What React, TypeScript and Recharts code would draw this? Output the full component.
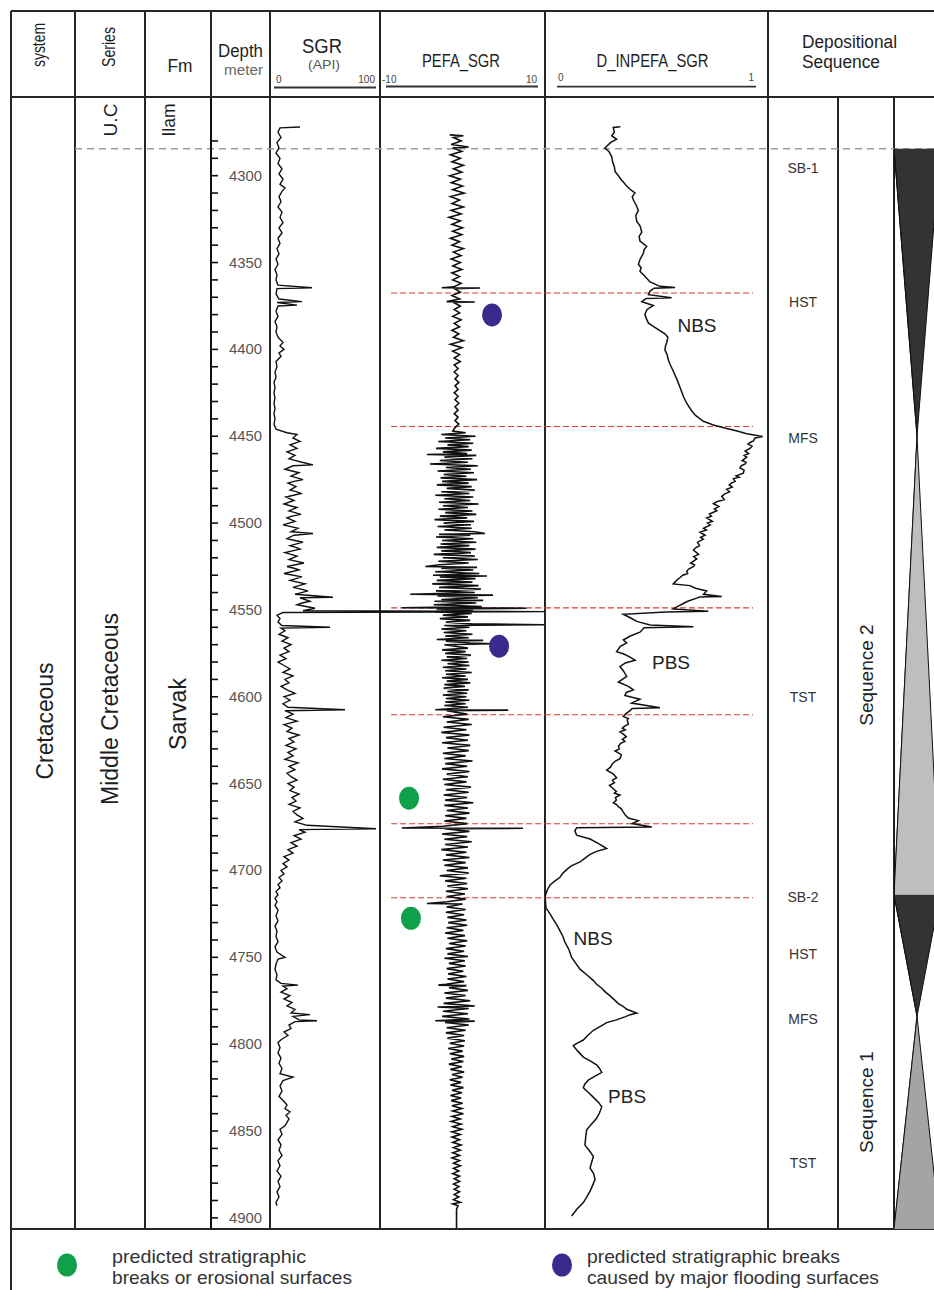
import React from "react";
import {
  Area,
  ComposedChart,
  Line,
  ReferenceDot,
  ReferenceLine,
  XAxis,
  YAxis,
} from "recharts";

const FONT = '"Liberation Sans", Arial, Helvetica, sans-serif';
const INK = "#1e1e1e";

// depth window shown in the log body (m)
const DEPTH_TOP = 4254.7;
const DEPTH_BASE = 4906.4;
const BODY_TOP = 97;
const BODY_H = 1132;

const depthTicks = [
  4280, 4290, 4300, 4310, 4320, 4330, 4340, 4350, 4360, 4370, 4380, 4390, 4400, 4410, 4420,
  4430, 4440, 4450, 4460, 4470, 4480, 4490, 4500, 4510, 4520, 4530, 4540, 4550, 4560, 4570,
  4580, 4590, 4600, 4610, 4620, 4630, 4640, 4650, 4660, 4670, 4680, 4690, 4700, 4710, 4720,
  4730, 4740, 4750, 4760, 4770, 4780, 4790, 4800, 4810, 4820, 4830, 4840, 4850, 4860, 4870,
  4880, 4890, 4900,
];
const depthLabels = [
  4300, 4350, 4400, 4450, 4500, 4550, 4600, 4650, 4700, 4750, 4800, 4850, 4900,
];

const sgrLog: [number, number][] = [
  [4272, 25], [4272.5, 5], [4275, 3], [4278, 6], [4281, 2], [4284, 4], [4287, 1], [4290, 5],
  [4293, 3], [4296, 7], [4299, 4], [4302, 8], [4305, 5], [4307, 10], [4309, 7], [4312, 4],
  [4315, 6], [4318, 3], [4321, 7], [4324, 5], [4327, 8], [4330, 4], [4333, 7], [4336, 3],
  [4339, 5], [4342, 2], [4345, 4], [4348, 1], [4351, 3], [4354, 0], [4357, 2], [4360, 1],
  [4363, 3], [4364.5, 37], [4365, 2], [4368, 1], [4371, 4], [4372.5, 27], [4373, 2],
  [4374.5, 22], [4375, 3], [4378, 1], [4381, 3], [4384, 0], [4387, 2], [4390, 1], [4393, 3],
  [4396, 8], [4398, 5], [4400, 9], [4402, 4], [4404, 6], [4407, 1], [4410, 2], [4413, 0],
  [4416, 1], [4419, -1], [4422, 0], [4425, -1], [4428, 0], [4431, -1], [4434, 0], [4437, -1],
  [4440, 0], [4443, -1], [4446, 1], [4448, 12], [4449, 22], [4451, 18], [4453, 25], [4455, 15],
  [4457, 22], [4458, 17], [4459, 12], [4461, 20], [4463, 14], [4465, 27], [4466.5, 38],
  [4467, 18], [4469, 10], [4470, 17], [4471, 24], [4473, 16], [4475, 28], [4476, 19],
  [4477, 13], [4479, 21], [4481, 15], [4482, 22], [4483, 26], [4485, 11], [4487, 19], [4489, 9],
  [4490, 15], [4491, 22], [4493, 14], [4495, 26], [4496, 17], [4497, 12], [4499, 20], [4501, 8],
  [4502, 16], [4503, 23], [4505, 16], [4506, 38], [4507, 19], [4509, 12], [4510, 20],
  [4511, 28], [4513, 15], [4514, 21], [4515, 25], [4517, 10], [4519, 22], [4520, 18],
  [4521, 14], [4523, 29], [4525, 12], [4526, 19], [4527, 24], [4529, 9], [4531, 27], [4532, 21],
  [4533, 15], [4535, 30], [4537, 18], [4538, 26], [4539, 33], [4541, 20], [4542.7, 58],
  [4543, 25], [4545, 35], [4546, 27], [4547, 22], [4549, 40], [4550.5, 28], [4551, 270],
  [4551.5, 8], [4553, 2], [4555, 5], [4557, 3], [4559, 7], [4560, 55], [4560.5, 6], [4562, 10],
  [4564, 4], [4566, 13], [4568, 7], [4570, 16], [4572, 9], [4574, 14], [4576, 5], [4578, 11],
  [4580, 3], [4582, 9], [4584, 15], [4586, 8], [4588, 18], [4590, 10], [4592, 14], [4594, 6],
  [4596, 12], [4598, 20], [4600, 9], [4602, 15], [4604, 8], [4606, 13], [4607.5, 70], [4608, 10],
  [4610, 18], [4612, 11], [4614, 22], [4616, 9], [4618, 17], [4620, 12], [4622, 24], [4624, 14],
  [4626, 19], [4628, 11], [4630, 21], [4632, 13], [4634, 18], [4636, 10], [4638, 23], [4640, 14],
  [4642, 20], [4644, 12], [4646, 16], [4648, 22], [4650, 13], [4652, 19], [4654, 15], [4656, 24],
  [4658, 17], [4660, 21], [4662, 14], [4664, 25], [4666, 18], [4668, 22], [4670, 28], [4672, 20],
  [4674, 32], [4676, 101], [4676.5, 24], [4678, 30], [4680, 19], [4682, 26], [4684, 16],
  [4686, 22], [4688, 13], [4690, 18], [4692, 9], [4694, 14], [4696, 8], [4698, 12], [4700, 6],
  [4702, 9], [4704, 4], [4706, 7], [4708, 3], [4710, 5], [4712, 1], [4714, 3], [4716, 0],
  [4718, 2], [4720, 0], [4723, 3], [4726, 1], [4729, 3], [4732, 0], [4735, 2], [4738, 1],
  [4741, 3], [4744, 0], [4747, 2], [4750, 10], [4751, 3], [4754, 1], [4757, 0], [4760, 2],
  [4763, 1], [4765, 6], [4766, 23], [4766.5, 8], [4768, 12], [4770, 6], [4772, 15], [4774, 9],
  [4776, 17], [4778, 12], [4780, 20], [4782, 16], [4783, 35], [4784, 18], [4786, 24],
  [4786.5, 42], [4787, 20], [4789, 14], [4791, 16], [4793, 9], [4795, 13], [4797, 7], [4799, 3],
  [4802, 5], [4805, 3], [4808, 6], [4811, 4], [4814, 7], [4817, 5], [4819, 18], [4821, 8],
  [4824, 5], [4827, 7], [4830, 4], [4833, 9], [4835, 12], [4837, 10], [4839, 15], [4841, 11],
  [4843, 14], [4845, 12], [4847, 10], [4849, 5], [4852, 7], [4855, 3], [4858, 6], [4861, 4],
  [4864, 7], [4867, 3], [4870, 5], [4873, 2], [4876, 6], [4879, 3], [4882, 5], [4885, 2],
  [4888, 4], [4891, 1], [4893, 2],
];

// PEFA_SGR, [depth, value]
const pefaLog: [number, number][] = [
  [4276.5, -0.9], [4277, 0.9], [4278, -0.4], [4280, 0.6], [4282, -0.7], [4283.5, 1.6],
  [4284, -0.5], [4286, 0.7], [4288, -0.8], [4290, 0.5], [4292, -0.6], [4294, 0.9], [4296, -0.4],
  [4298, 0.7], [4300, -0.9], [4302, 0.5], [4304, -0.7], [4306, 0.8], [4308, -0.5], [4310, 1.0],
  [4312, -0.8], [4314, 0.4], [4316, -0.6], [4318, 0.9], [4320, -0.7], [4322, 0.6], [4324, -1.0],
  [4326, 0.5], [4328, -0.6], [4330, 0.8], [4332, -0.5], [4334, 0.7], [4336, -0.8], [4338, 0.4],
  [4340, -0.6], [4342, 0.9], [4344, -0.4], [4346, 0.6], [4348, -0.7], [4350, 0.5], [4352, -0.5],
  [4354, 0.7], [4356, -0.6], [4358, 0.4], [4360, -0.5], [4362, 0.6], [4364, -0.4],
  [4364.5, -1.95], [4364.7, 3.1], [4365, -0.3], [4367, 0.5], [4369, -0.6], [4371, 0.4],
  [4372.5, -1.3], [4372.7, 2.4], [4373, -0.4], [4375, 0.5], [4377, -0.3], [4379, 0.4],
  [4381, -0.5], [4383, 0.6], [4385, -0.3], [4387, 0.4], [4389, -0.6], [4391, 0.3], [4393, -0.4],
  [4395, 0.9], [4397, -0.8], [4399, 0.7], [4401, -0.5], [4403, 0.4], [4405, -0.3], [4407, 0.5],
  [4409, -0.3], [4411, 0.2], [4413, -0.3], [4415, 0.2], [4417, -0.2], [4419, 0.3], [4421, -0.2],
  [4423, 0.2], [4425, -0.3], [4427, 0.2], [4429, -0.2], [4431, 0.3], [4433, -0.2], [4435, 0.2],
  [4437, -0.3], [4439, 0.2], [4441, -0.2], [4443, 0.3], [4445, -0.2], [4447, -0.5],
  [4448, 1.2], [4449, -2.0], [4450, 2.5], [4451, -1.5], [4452, 1.8], [4453, -2.4], [4454, 2.2],
  [4455, -1.2], [4456, 1.6], [4457, -2.7], [4458, 2.0], [4459, -1.8], [4460, 1.4],
  [4460.5, -3.9], [4461, 2.6], [4462, -1.6], [4463, 2.1], [4464, -2.2], [4465, 1.5],
  [4466, -3.5], [4467, 2.8], [4468, -1.4], [4469, 1.9], [4470, -2.5], [4471, 2.3], [4472, -1.7],
  [4473, 1.3], [4474, -2.1], [4475, 2.7], [4476, -1.9], [4477, 1.6], [4478, -2.6], [4479, 2.0],
  [4480, -1.3], [4481, 2.4], [4482, -2.0], [4483, 1.7], [4484, -2.8], [4485, 2.2], [4486, -1.6],
  [4487, 1.8], [4488, -2.3], [4489, 2.9], [4490, -1.8], [4491, 1.5], [4492, -2.4], [4493, 2.1],
  [4494, -1.5], [4495, 2.6], [4496, -2.2], [4497, 1.4], [4498, -2.9], [4499, 2.3], [4500, -1.7],
  [4501, 1.9], [4502, -2.5], [4503, 2.0], [4504, -1.6], [4505, 2.4], [4506, 3.75],
  [4506.5, -2.3], [4507, 1.8], [4508, -2.7], [4509, 2.2], [4510, -1.9], [4511, 2.6],
  [4512, -2.1], [4513, 1.7], [4514, -2.6], [4515, 2.5], [4516, -2.0], [4517, 1.9], [4518, -3.0],
  [4519, 2.4], [4520, -1.8], [4521, 2.8], [4522, -2.4], [4523, 1.6], [4524, -2.2], [4525, -4.1],
  [4525.5, 2.7], [4526, -2.0], [4527, 2.2], [4528, -2.8], [4529, 3.0], [4530, -3.1],
  [4530.5, 4.0], [4531, -2.2], [4532, 2.5], [4533, -2.6], [4534, 2.1], [4535, -3.2],
  [4536, 2.9], [4537, -2.3], [4538, 3.2], [4539, -2.7], [4540, 2.4], [4541, -6.1],
  [4541.5, 4.8], [4542, -2.5], [4543, 2.8], [4544, -2.0], [4544.5, 3.5], [4545, -2.9],
  [4546, 2.6], [4547, -3.0], [4548, 3.3], [4548.7, -7.2], [4549, 9.2], [4549.5, -2.6],
  [4550, 2.2], [4551, -2.8], [4552, 2.0], [4553, -1.8], [4554, 1.5], [4555, -2.2], [4556, 1.8],
  [4557, -1.4], [4558, 2.0], [4558.5, 11.6], [4559, -1.6], [4560, 1.7], [4561, -2.0],
  [4562, 1.3], [4563, -1.7], [4564, 2.1], [4565, -1.5], [4566, 1.6], [4567, -2.6],
  [4567.5, 3.5], [4568, -1.4], [4569, 1.8], [4569.5, 4.8], [4570, -1.6], [4572, 1.5],
  [4573, -1.9], [4574, 1.2], [4575, -1.5], [4576, 1.9], [4577, -1.3], [4578, 1.4], [4579, -2.0],
  [4580, 1.6], [4581, -1.2], [4582, 1.7], [4583, -1.8], [4584, 1.3], [4585, -1.5], [4586, 2.0],
  [4587, -1.4], [4588, 1.2], [4589, -1.9], [4590, 1.5], [4591, -1.3], [4592, 1.8], [4593, -1.6],
  [4594, 1.1], [4595, -1.7], [4596, 1.6], [4597, -1.2], [4598, 1.4], [4599, -1.8], [4600, 1.3],
  [4601, -1.4], [4602, 1.7], [4603, -1.5], [4604, 1.2], [4605, -1.6], [4606, 1.5],
  [4607.5, -2.8], [4607.7, 6.8], [4608, -1.3], [4610, 1.4], [4611.5, -1.8], [4613, 1.6],
  [4614.5, -1.3], [4616, 2.0], [4617.5, -1.7], [4619, 1.3], [4620.5, -2.0], [4622, 1.7],
  [4623.5, -1.4], [4625, 1.5], [4626.5, -1.9], [4628, 1.8], [4629.5, -1.2], [4631, 1.6],
  [4632.5, -1.8], [4634, 1.2], [4635.5, -1.6], [4637, 2.1], [4638.5, -1.5], [4640, 1.4],
  [4641.5, -1.9], [4643, 1.7], [4644.5, -1.3], [4646, 1.5], [4647.5, -1.8], [4649, 1.3],
  [4650.5, -1.6], [4652, 1.9], [4653.5, -1.4], [4655, 1.6], [4656.5, -1.7], [4658, 1.4],
  [4659.5, -1.5], [4661, 2.2], [4662.5, -1.6], [4664, 1.5], [4665.5, -1.3], [4667, 1.7],
  [4668.5, -1.5], [4670, 1.3], [4671.5, -1.6], [4673, 1.4], [4674.5, -1.8], [4675.5, -7.2],
  [4675.7, 8.75], [4676, -1.6], [4677.5, 1.7], [4679, -1.9], [4680.5, 1.4], [4682, -1.6],
  [4683.5, 2.0], [4685, -1.5], [4686.5, 1.5], [4688, -2.0], [4689.5, 1.3], [4691, -1.4],
  [4692.5, 1.7], [4694, -1.8], [4695.5, 1.2], [4697, -1.6], [4698.5, 1.5], [4700, -1.3],
  [4701.5, 1.6], [4703, -2.2], [4704.5, 1.3], [4706, -1.5], [4707.5, 1.4], [4709, -1.2],
  [4710.5, 1.5], [4712, -1.4], [4713.5, 1.1], [4715, -1.3], [4716.5, 1.2], [4718, -1.2],
  [4719, -3.9], [4719.3, 0.8], [4721, -1.3], [4722.5, 1.2], [4724, -1.4], [4725.5, 1.0],
  [4727, -1.2], [4728.5, 1.3], [4730, -1.1], [4731.5, 1.4], [4733, -1.3], [4734.5, 0.9],
  [4736, -1.5], [4737.5, 1.1], [4739, -1.2], [4740.5, 1.4], [4742, -1.0], [4743.5, 1.2],
  [4745, -1.4], [4746.5, 1.0], [4748, -1.2], [4749.5, 1.5], [4750.5, -1.6], [4752, 1.1],
  [4753.5, -1.0], [4755, 1.2], [4756.5, -1.3], [4758, 0.9], [4759.5, -1.1], [4761, 1.3],
  [4762.5, -1.2], [4764, 1.0], [4765.5, -1.4], [4766, -2.4], [4766.3, 1.3], [4767.5, -1.0],
  [4769, 1.5], [4770.5, -1.6], [4772, 1.2], [4773.5, -1.4], [4775, 1.8], [4776.5, -1.7],
  [4778, 2.4], [4778.6, -2.5], [4779.5, 1.6], [4781, -1.8], [4782.5, 1.5], [4784, -1.9],
  [4785.5, 1.7], [4786.5, -2.8], [4786.7, 2.4], [4787.5, -1.5], [4789, 1.6], [4790.5, -1.3],
  [4792, 1.2], [4793.5, -1.4], [4795, 1.0], [4796.5, -1.2], [4798, 1.1], [4799.5, -0.9],
  [4801, 1.0], [4802.5, -1.1], [4804, 0.8], [4805.5, -0.9], [4807, 1.0], [4808.5, -0.7],
  [4810, 0.9], [4811.5, -1.0], [4813, 0.7], [4814.5, -0.8], [4816, 1.0], [4817.5, -0.6],
  [4819, 0.8], [4820.5, -0.9], [4822, 0.6], [4823.5, -0.8], [4825, 0.9], [4826.5, -0.6],
  [4828, 0.7], [4829.5, -0.8], [4831, 0.6], [4832.5, -0.7], [4834, 0.8], [4835.5, -0.6],
  [4837, 0.7], [4838.5, -0.5], [4840, 0.9], [4841.5, -0.6], [4843, 0.5], [4844.5, -0.7],
  [4846, 0.6], [4847.5, -0.5], [4849, 0.7], [4850.5, -0.6], [4852, 0.5], [4853.5, -0.6],
  [4855, 0.4], [4856.5, -0.5], [4858, 0.6], [4859.5, -0.4], [4861, 0.5], [4862.5, -0.5],
  [4864, 0.4], [4865.5, -0.6], [4867, 0.4], [4868.5, -0.4], [4870, 0.5], [4871.5, -0.4],
  [4873, 0.3], [4874.5, -0.5], [4876, 0.4], [4877.5, -0.3], [4879, 0.4], [4880.5, -0.4],
  [4882, 0.3], [4883.5, -0.3], [4885, 0.4], [4886.5, -0.3], [4888, 0.3], [4889.5, -0.4],
  [4891, 0.5], [4892, -0.5], [4893, 0.2], [4895, 0], [4906, 0],
];

// D_INPEFA_SGR, [depth, value]
const inpefaLog: [number, number][] = [
  [4271.8, 0.32], [4272.2, 0.284], [4275, 0.29], [4277, 0.276], [4279, 0.301], [4281, 0.27],
  [4283.1, 0.251], [4284.2, 0.242], [4286, 0.262], [4289, 0.276], [4292, 0.281], [4295, 0.29],
  [4297.5, 0.293], [4300, 0.31], [4302, 0.322], [4303.6, 0.335], [4306, 0.352], [4307.8, 0.369],
  [4309.9, 0.394], [4312, 0.38], [4314, 0.386], [4317, 0.4], [4320, 0.411], [4323, 0.398],
  [4326.3, 0.403], [4329, 0.42], [4332.5, 0.428], [4335, 0.415], [4337.6, 0.419],
  [4340.7, 0.453], [4342.5, 0.44], [4344.8, 0.436], [4348, 0.42], [4351, 0.411], [4353, 0.425],
  [4355, 0.419], [4358, 0.445], [4361.2, 0.47], [4363.7, 0.52], [4364.4, 0.596],
  [4364.8, 0.49], [4366.4, 0.47], [4368.5, 0.462], [4370.3, 0.579], [4370.7, 0.45],
  [4372.6, 0.428], [4374.7, 0.487], [4377, 0.455], [4379.8, 0.444], [4382, 0.45],
  [4384.9, 0.462], [4388, 0.504], [4391, 0.545], [4393, 0.56], [4396.2, 0.554], [4398, 0.548],
  [4400.3, 0.545], [4403, 0.556], [4406, 0.562], [4408.6, 0.571], [4412, 0.585],
  [4416.8, 0.604], [4420, 0.615], [4423, 0.625], [4427, 0.638], [4431, 0.655], [4435.3, 0.68],
  [4438, 0.7], [4441.4, 0.739], [4443.5, 0.79], [4445.6, 0.857], [4447, 0.91], [4448.6, 0.958],
  [4450.1, 1.039], [4451, 1.0], [4452.7, 0.992], [4453.6, 0.975], [4454.5, 0.965],
  [4455.7, 0.985], [4456.9, 0.976], [4458.5, 0.95], [4460, 0.968], [4461, 0.945],
  [4462, 0.958], [4464, 0.935], [4465, 0.955], [4466, 0.95], [4467, 0.93], [4468.2, 0.924],
  [4469.5, 0.945], [4471.3, 0.941], [4472.8, 0.905], [4473.6, 0.92], [4474.4, 0.891],
  [4476, 0.9], [4477, 0.88], [4478, 0.87], [4479.3, 0.885], [4480.5, 0.857], [4482, 0.872],
  [4483.3, 0.845], [4484.6, 0.832], [4486.5, 0.845], [4487.6, 0.81], [4488.8, 0.79],
  [4490.5, 0.818], [4491.8, 0.795], [4492.9, 0.807], [4494.8, 0.77], [4496, 0.78],
  [4497, 0.756], [4499, 0.785], [4500, 0.76], [4501.1, 0.774], [4503, 0.74], [4504, 0.755],
  [4505.2, 0.722], [4507, 0.748], [4508.2, 0.725], [4509.3, 0.739], [4511, 0.71], [4513, 0.72],
  [4514.2, 0.7], [4515.5, 0.689], [4517, 0.705], [4518, 0.715], [4519.3, 0.69],
  [4520.6, 0.706], [4523, 0.675], [4524, 0.695], [4525, 0.69], [4526.5, 0.665],
  [4527.8, 0.655], [4529, 0.66], [4530, 0.635], [4531.5, 0.62], [4533, 0.604], [4535, 0.587],
  [4536, 0.672], [4537.5, 0.7], [4539.1, 0.756], [4541, 0.74], [4542.2, 0.832],
  [4542.6, 0.72], [4543.2, 0.706], [4545, 0.66], [4546.3, 0.638], [4548, 0.61],
  [4549.4, 0.587], [4550.8, 0.764], [4551.2, 0.55], [4552.5, 0.335], [4554.5, 0.37],
  [4556.6, 0.403], [4558.7, 0.47], [4559.7, 0.689], [4560.2, 0.44], [4562.8, 0.419],
  [4565, 0.37], [4567.3, 0.335], [4569, 0.352], [4571, 0.32], [4574, 0.301], [4575.5, 0.34],
  [4577.2, 0.369], [4579, 0.395], [4580.5, 0.345], [4582.7, 0.318], [4585, 0.335],
  [4588.3, 0.352], [4590, 0.33], [4591.5, 0.31], [4594, 0.36], [4596, 0.386], [4597.5, 0.35],
  [4599.3, 0.343], [4601.4, 0.419], [4603.6, 0.377], [4606.3, 0.52], [4606.7, 0.38],
  [4608, 0.369], [4609.5, 0.35], [4611.3, 0.335], [4612.5, 0.36], [4613.5, 0.355],
  [4615.8, 0.36], [4617, 0.34], [4618, 0.33], [4619, 0.345], [4620.2, 0.318], [4621.5, 0.335],
  [4623, 0.35], [4624.5, 0.33], [4625.7, 0.343], [4627, 0.32], [4628.5, 0.31], [4630, 0.315],
  [4631.2, 0.293], [4632.3, 0.31], [4633.5, 0.325], [4635.6, 0.318], [4637, 0.295],
  [4638.5, 0.28], [4640.5, 0.27], [4642.2, 0.251], [4643.5, 0.27], [4644.5, 0.285],
  [4646.6, 0.301], [4648, 0.28], [4649.5, 0.29], [4651, 0.265], [4652.1, 0.276],
  [4654.5, 0.3], [4655.5, 0.29], [4656.5, 0.318], [4658, 0.295], [4659.5, 0.3], [4661, 0.285],
  [4662, 0.301], [4663.3, 0.31], [4664.5, 0.325], [4666.4, 0.335], [4668, 0.345],
  [4669.8, 0.36], [4671.3, 0.411], [4673, 0.38], [4675, 0.479], [4675.4, 0.1], [4677, 0.09],
  [4679.7, 0.099], [4681.9, 0.167], [4684.5, 0.21], [4687.4, 0.251], [4689, 0.2],
  [4690.7, 0.167], [4693, 0.14], [4695.1, 0.116], [4697.5, 0.07], [4699.5, 0.049],
  [4701.5, 0.03], [4703.9, 0.015], [4706, -0.01], [4708.3, -0.035], [4711.5, -0.05],
  [4714.9, -0.06], [4718, -0.058], [4721.5, -0.056], [4725, -0.035], [4728.1, -0.019],
  [4731.5, 0.0], [4734.8, 0.015], [4738, 0.03], [4741.3, 0.04], [4745.5, 0.06],
  [4750.1, 0.074], [4753.5, 0.095], [4756.8, 0.116], [4760, 0.15], [4763.4, 0.184],
  [4765.5, 0.2], [4767.8, 0.226], [4770, 0.245], [4772.2, 0.268], [4774.5, 0.29],
  [4776.6, 0.31], [4778.3, 0.335], [4779.9, 0.352], [4782.1, 0.403], [4783, 0.37],
  [4784.3, 0.343], [4786, 0.3], [4787.6, 0.251], [4790, 0.215], [4792, 0.184], [4795, 0.155],
  [4797.6, 0.133], [4799.5, 0.1], [4800.9, 0.082], [4804, 0.105], [4807.4, 0.133],
  [4809.5, 0.165], [4811.9, 0.2], [4814, 0.215], [4816.3, 0.226], [4818.5, 0.19],
  [4820.7, 0.158], [4823, 0.14], [4825.1, 0.133], [4828, 0.16], [4830.6, 0.184],
  [4833.5, 0.21], [4836.1, 0.226], [4839.5, 0.215], [4842.7, 0.2], [4846, 0.175],
  [4849.3, 0.15], [4853.5, 0.145], [4858.1, 0.141], [4861.5, 0.165], [4864.7, 0.184],
  [4868, 0.175], [4871.3, 0.167], [4874.5, 0.185], [4877.9, 0.192], [4881.3, 0.18],
  [4884.6, 0.167], [4888, 0.15], [4891.2, 0.133], [4895, 0.1], [4898.9, 0.074],
];

// picked surfaces (red dashed) and the SB-1 datum (grey dashed)
const boundaryDepths = [4367.5, 4444.4, 4548.8, 4610.3, 4673.1, 4715.7];
const datumDepth = 4284.5;

const floodingBreaks = [
  { depth: 4380.2, pefa: 4.67 },
  { depth: 4570.9, pefa: 5.6 },
];
const erosionBreaks = [
  { depth: 4658.4, pefa: -6.25 },
  { depth: 4727.5, pefa: -6.0 },
];

const trendLabels = [
  { label: "NBS", depth: 4386, inpefa: 0.707 },
  { label: "PBS", depth: 4580, inpefa: 0.576 },
  { label: "NBS", depth: 4739, inpefa: 0.182 },
  { label: "PBS", depth: 4830, inpefa: 0.354 },
];

const tractLabels = [
  { label: "SB-1", depth: 4295.6 },
  { label: "HST", depth: 4372.7 },
  { label: "MFS", depth: 4451 },
  { label: "TST", depth: 4600 },
  { label: "SB-2", depth: 4715.2 },
  { label: "HST", depth: 4748 },
  { label: "MFS", depth: 4785.5 },
  { label: "TST", depth: 4868.4 },
];

const sequenceNames = [
  { label: "Sequence 2", depth: 4587.5 },
  { label: "Sequence 1", depth: 4833.4 },
];

const triangles = [
  { key: "hst2", top: 4284.5, base: 4450, narrowsDown: true, fill: "#333333" },
  { key: "tst2", top: 4450, base: 4714, narrowsDown: false, fill: "#bebebe" },
  { key: "hst1", top: 4714, base: 4784, narrowsDown: true, fill: "#333333" },
  { key: "tst1", top: 4784, base: DEPTH_BASE, narrowsDown: false, fill: "#a4a4a4" },
];

const sgrRows = sgrLog.map(([depth, sgr]) => ({ depth, sgr }));
const pefaRows = pefaLog.map(([depth, pefa]) => ({ depth, pefa }));
const inpefaRows = inpefaLog.map(([depth, inpefa]) => ({ depth, inpefa }));

const triangleRows = (() => {
  const byDepth: Record<string, any> = {};
  triangles.forEach((t) => {
    const wide = [0, 1];
    const point = [0.5, 0.5];
    const top = (byDepth[t.top] = byDepth[t.top] || { depth: t.top });
    const base = (byDepth[t.base] = byDepth[t.base] || { depth: t.base });
    top[t.key] = t.narrowsDown ? wide : point;
    base[t.key] = t.narrowsDown ? point : wide;
  });
  return Object.values(byDepth).sort((a: any, b: any) => a.depth - b.depth);
})();

const DEPTH_DOMAIN: [number, number] = [DEPTH_TOP, DEPTH_BASE];
const NO_MARGIN = { top: 0, right: 0, bottom: 0, left: 0 };
const RED = "#dd3b35";

function Label({ x, y, size, len, rotate, anchor = "middle", fill = INK, children }: any) {
  return (
    <text
      x={x}
      y={y}
      fontSize={size}
      textAnchor={anchor}
      dominantBaseline="central"
      fill={fill}
      fontFamily={FONT}
      textLength={len}
      lengthAdjust="spacingAndGlyphs"
      transform={rotate ? `rotate(-90 ${x} ${y})` : undefined}
    >
      {children}
    </text>
  );
}

function DepthTick(props: any) {
  const { x, y, payload } = props;
  if (!depthLabels.includes(payload.value)) return <g />;
  return (
    <text
      x={x}
      y={y}
      dy={5}
      fontSize={14}
      fill="#555"
      fontFamily={FONT}
      textLength={33}
      lengthAdjust="spacingAndGlyphs"
    >
      {payload.value}
    </text>
  );
}

function Frame() {
  const colX = [75, 145, 211, 270, 380, 545, 768];
  const subColX = [838, 894];
  const line = { stroke: "#262626", strokeWidth: 2 };
  return (
    <svg width={934} height={1290} style={{ position: "absolute", left: 0, top: 0 }}>
      <line x1={11} y1={11} x2={934} y2={11} {...line} />
      <line x1={11} y1={97} x2={934} y2={97} {...line} />
      <line x1={11} y1={1229} x2={934} y2={1229} {...line} />
      <line x1={11} y1={11} x2={11} y2={1290} {...line} />
      {colX.map((x) => (
        <line key={x} x1={x} y1={11} x2={x} y2={1229} {...line} />
      ))}
      {subColX.map((x) => (
        <line key={x} x1={x} y1={97} x2={x} y2={1229} {...line} />
      ))}

      {/* header */}
      <Label x={39} y={45} size={18} len={44} rotate>system</Label>
      <Label x={108} y={47} size={19} len={40} rotate>Series</Label>
      <Label x={180} y={66} size={18} len={25}>Fm</Label>
      <Label x={240.5} y={51} size={18} len={45}>Depth</Label>
      <Label x={243.5} y={70} size={14} len={39} fill="#666">meter</Label>
      <Label x={322} y={46} size={20} len={40}>SGR</Label>
      <Label x={324} y={64} size={13} len={32} fill="#555">(API)</Label>
      <Label x={276} y={79} size={10} anchor="start" fill="#444">0</Label>
      <Label x={375} y={79} size={10} anchor="end" fill="#444">100</Label>
      <line x1={274} y1={87.5} x2={376} y2={87.5} stroke="#333" strokeWidth={1.8} />
      <Label x={461} y={60} size={19} len={78}>PEFA_SGR</Label>
      <Label x={382} y={79} size={10} anchor="start" fill="#444">-10</Label>
      <Label x={537} y={79} size={10} anchor="end" fill="#444">10</Label>
      <line x1={386} y1={86.5} x2={538} y2={86.5} stroke="#333" strokeWidth={1.8} />
      <Label x={652.5} y={60} size={19} len={112}>D_INPEFA_SGR</Label>
      <Label x={558} y={77} size={10} anchor="start" fill="#444">0</Label>
      <Label x={754} y={77} size={10} anchor="end" fill="#444">1</Label>
      <line x1={557} y1={86.7} x2={756} y2={86.7} stroke="#333" strokeWidth={1.8} />
      <Label x={802} y={42} size={18} len={95} anchor="start">Depositional</Label>
      <Label x={802} y={62} size={18} len={78} anchor="start">Sequence</Label>

      {/* stratigraphic columns */}
      <Label x={110} y={120} size={19} len={33} rotate>U.C</Label>
      <Label x={168} y={120} size={19} len={33} rotate>Ilam</Label>
      <Label x={45} y={721} size={23} len={117} rotate>Cretaceous</Label>
      <Label x={110} y={709} size={23} len={192} rotate>Middle Cretaceous</Label>
      <Label x={178} y={714} size={23} len={72} rotate>Sarvak</Label>

      {/* legend */}
      <ellipse cx={67} cy={1265} rx={10} ry={11.5} fill="#10a04a" />
      <Label x={112} y={1256} size={19} len={194} anchor="start" fill="#333">predicted  stratigraphic</Label>
      <Label x={112} y={1277} size={19} len={240} anchor="start" fill="#333">breaks or erosional surfaces</Label>
      <ellipse cx={562} cy={1265} rx={10} ry={11.5} fill="#382b8c" />
      <Label x={587} y={1256} size={19} len={253} anchor="start" fill="#333">predicted stratigraphic breaks</Label>
      <Label x={587} y={1277} size={19} len={292} anchor="start" fill="#333">caused by major flooding surfaces</Label>
    </svg>
  );
}

const at = (left: number) => ({ position: "absolute" as const, left, top: BODY_TOP });

export default function App() {
  return (
    <div
      style={{
        position: "absolute",
        left: 0,
        top: 0,
        width: 934,
        height: 1290,
        background: "#fff",
        overflow: "hidden",
        fontFamily: FONT,
      }}
    >
      <Frame />

      {/* SB-1 datum across the columns */}
      <div style={at(75)}>
        <ComposedChart layout="vertical" width={859} height={BODY_H} data={sgrRows} margin={NO_MARGIN}>
          <XAxis type="number" domain={[0, 1]} hide allowDataOverflow />
          <YAxis type="number" dataKey="depth" domain={DEPTH_DOMAIN} hide allowDataOverflow />
          <ReferenceLine y={datumDepth} stroke="#9c9c9c" strokeWidth={1.6} strokeDasharray="7 5" />
        </ComposedChart>
      </div>

      {/* depth scale */}
      <div style={at(200)}>
        <ComposedChart layout="vertical" width={70} height={BODY_H} data={sgrRows} margin={NO_MARGIN}>
          <XAxis type="number" domain={[0, 1]} hide allowDataOverflow />
          <YAxis
            type="number"
            dataKey="depth"
            orientation="right"
            width={59}
            domain={DEPTH_DOMAIN}
            allowDataOverflow
            ticks={depthTicks}
            interval={0}
            tickSize={7}
            tickMargin={11}
            tick={<DepthTick />}
            tickLine={{ stroke: "#111", strokeWidth: 1.6 }}
            axisLine={{ stroke: "#111", strokeWidth: 2 }}
          />
        </ComposedChart>
      </div>

      {/* SGR */}
      <div style={at(270)}>
        <ComposedChart layout="vertical" width={275} height={BODY_H} data={sgrRows} margin={NO_MARGIN}>
          <XAxis type="number" domain={[-5, 270]} hide allowDataOverflow />
          <YAxis type="number" dataKey="depth" domain={DEPTH_DOMAIN} hide allowDataOverflow />
          <Line
            dataKey="sgr"
            type="linear"
            stroke="#111"
            strokeWidth={1.4}
            dot={false}
            activeDot={false}
            isAnimationActive={false}
          />
        </ComposedChart>
      </div>

      {/* PEFA_SGR */}
      <div style={at(380)}>
        <ComposedChart layout="vertical" width={165} height={BODY_H} data={pefaRows} margin={NO_MARGIN}>
          <XAxis type="number" domain={[-10.07, 11.64]} hide allowDataOverflow />
          <YAxis type="number" dataKey="depth" domain={DEPTH_DOMAIN} hide allowDataOverflow />
          {boundaryDepths.map((d) => (
            <ReferenceLine
              key={d}
              segment={[{ x: -8.6, y: d }, { x: 11.64, y: d }]}
              stroke={RED}
              strokeWidth={1.1}
              strokeDasharray="6 3"
            />
          ))}
          <Line
            dataKey="pefa"
            type="linear"
            stroke="#111"
            strokeWidth={1.6}
            dot={false}
            activeDot={false}
            isAnimationActive={false}
          />
          {floodingBreaks.map((b) => (
            <ReferenceDot
              key={b.depth}
              x={b.pefa}
              y={b.depth}
              r={11}
              shape={(p: any) => <ellipse cx={p.cx} cy={p.cy} rx={10} ry={11.5} fill="#382b8c" />}
            />
          ))}
          {erosionBreaks.map((b) => (
            <ReferenceDot
              key={b.depth}
              x={b.pefa}
              y={b.depth}
              r={11}
              shape={(p: any) => <ellipse cx={p.cx} cy={p.cy} rx={10} ry={11.5} fill="#10a04a" />}
            />
          ))}
        </ComposedChart>
      </div>

      {/* D_INPEFA_SGR */}
      <div style={at(545)}>
        <ComposedChart layout="vertical" width={223} height={BODY_H} data={inpefaRows} margin={NO_MARGIN}>
          <XAxis type="number" domain={[-0.0606, 1.0657]} hide allowDataOverflow />
          <YAxis type="number" dataKey="depth" domain={DEPTH_DOMAIN} hide allowDataOverflow />
          {boundaryDepths.map((d) => (
            <ReferenceLine
              key={d}
              segment={[{ x: -0.0606, y: d }, { x: 0.99, y: d }]}
              stroke={RED}
              strokeWidth={1.1}
              strokeDasharray="6 3"
            />
          ))}
          <Line
            dataKey="inpefa"
            type="linear"
            stroke="#111"
            strokeWidth={1.5}
            dot={false}
            activeDot={false}
            isAnimationActive={false}
          />
          {trendLabels.map((t) => (
            <ReferenceDot
              key={t.depth}
              x={t.inpefa}
              y={t.depth}
              r={1}
              shape={(p: any) => (
                <text
                  x={p.cx}
                  y={p.cy}
                  textAnchor="middle"
                  dominantBaseline="central"
                  fontSize={19}
                  fontFamily={FONT}
                  fill="#222"
                >
                  {t.label}
                </text>
              )}
            />
          ))}
        </ComposedChart>
      </div>

      {/* systems tracts and sequences */}
      <div style={at(768)}>
        <ComposedChart layout="vertical" width={126} height={BODY_H} data={sgrRows} margin={NO_MARGIN}>
          <XAxis type="number" domain={[0, 1]} hide allowDataOverflow />
          <YAxis type="number" dataKey="depth" domain={DEPTH_DOMAIN} hide allowDataOverflow />
          {tractLabels.map((t) => (
            <ReferenceDot
              key={t.depth}
              x={0.278}
              y={t.depth}
              r={1}
              shape={(p: any) => (
                <text
                  x={p.cx}
                  y={p.cy}
                  textAnchor="middle"
                  dominantBaseline="central"
                  fontSize={14}
                  fontFamily={FONT}
                  fill="#333"
                >
                  {t.label}
                </text>
              )}
            />
          ))}
          {sequenceNames.map((s) => (
            <ReferenceDot
              key={s.depth}
              x={0.778}
              y={s.depth}
              r={1}
              shape={(p: any) => (
                <text
                  x={p.cx}
                  y={p.cy}
                  textAnchor="middle"
                  dominantBaseline="central"
                  fontSize={19}
                  fontFamily={FONT}
                  fill="#222"
                  transform={`rotate(-90 ${p.cx} ${p.cy})`}
                >
                  {s.label}
                </text>
              )}
            />
          ))}
        </ComposedChart>
      </div>

      {/* sequence triangles */}
      <div style={at(894)}>
        <ComposedChart layout="vertical" width={46} height={BODY_H} data={triangleRows} margin={NO_MARGIN}>
          <XAxis type="number" domain={[0, 1]} hide allowDataOverflow />
          <YAxis type="number" dataKey="depth" domain={DEPTH_DOMAIN} hide allowDataOverflow />
          {triangles.map((t) => (
            <Area
              key={t.key}
              dataKey={t.key}
              type="linear"
              fill={t.fill}
              fillOpacity={1}
              stroke="#111"
              strokeWidth={1}
              dot={false}
              activeDot={false}
              connectNulls={false}
              isAnimationActive={false}
            />
          ))}
        </ComposedChart>
      </div>
    </div>
  );
}
